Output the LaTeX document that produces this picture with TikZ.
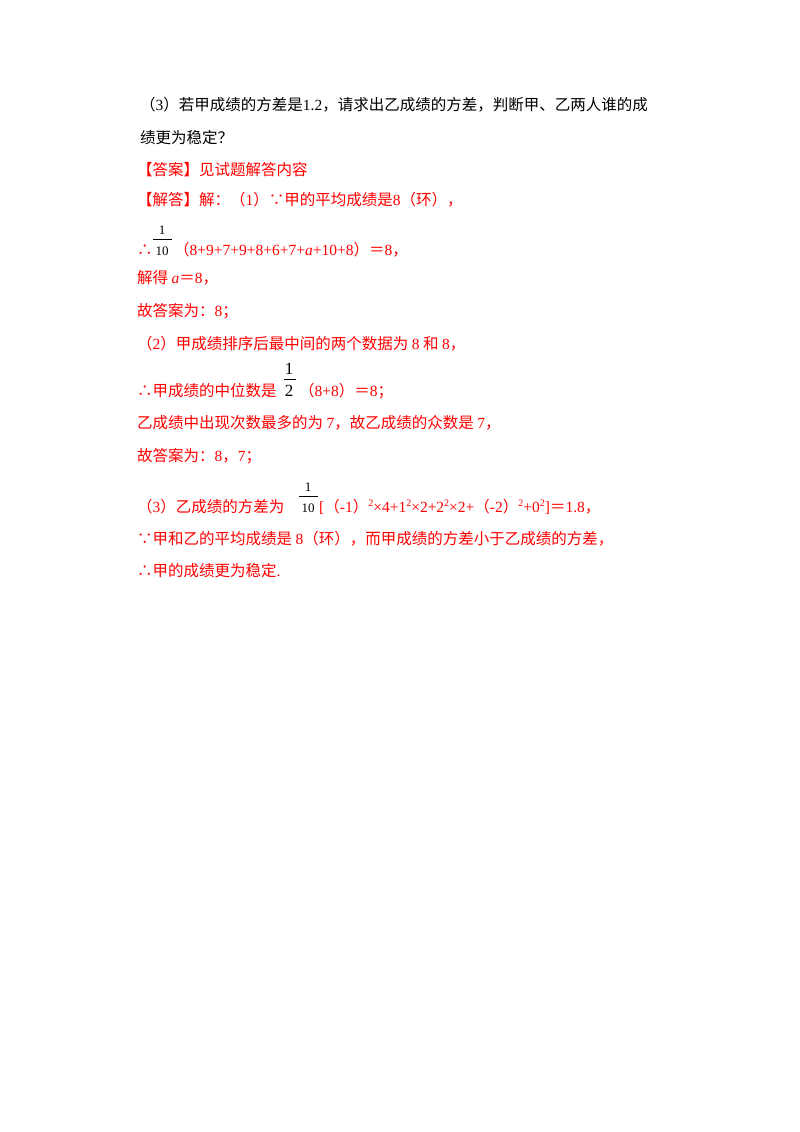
\documentclass[tikz,border=0pt]{standalone}
\usepackage{fontspec}
\setmainfont{Noto Sans CJK SC}
\newfontfamily\tm{Liberation Serif}
\definecolor{ans}{RGB}{255,0,0}
\newcommand{\sq}{\raisebox{6pt}{\tm\fontsize{10}{10}\selectfont 2}}
\begin{document}
\begin{tikzpicture}[x=1pt,y=-1pt,
  ln/.style={anchor=base west,inner sep=0pt,font=\fontsize{15.5}{16}\selectfont},
  rd/.style={ln,text=ans},
  fr/.style={anchor=base,inner sep=0pt,font=\tm\fontsize{13}{13}\selectfont},
  frb/.style={anchor=base,inner sep=0pt,font=\tm\fontsize{17}{17}\selectfont}]
\useasboundingbox (0,0) rectangle (800,1132);
\fill[white] (0,0) rectangle (800,1132);
\node[ln] (l1) at (140,110) {（{\tm 3}）若甲成绩的方差是{\tm 1.2}，请求出乙成绩的方差，判断甲、乙两人谁的成};
\node[ln] (l2) at (140,143) {绩更为稳定？};
\node[rd] (l3) at (137,175) {【答案】见试题解答内容};
\node[rd] (l4) at (137,205) {【解答】解：（{\tm 1}）∵甲的平均成绩是{\tm 8}（环），};
% line 5
\node[rd] (l5a) at (137,255) {∴};
\node[fr] (f1d) at (162,255) {10};
\node[fr] (f1n) at (162,234) {1};
\draw (153,239) -- (172,239);
\node[rd] (l5b) at (174,255) {（{\tm 8+9+7+9+8+6+7+\textit{a}+10+8}）＝{\tm 8}，};
\node[rd] (l6) at (137,283) {解得 {\tm\textit{a}}＝{\tm 8}，};
\node[rd] (l7) at (137,316) {故答案为：{\tm 8}；};
\node[rd] (l8) at (137,349) {（{\tm 2}）甲成绩排序后最中间的两个数据为 {\tm 8} 和 {\tm 8}，};
\node[rd] (l9a) at (137,396) {∴甲成绩的中位数是};
\node[frb] (f2d) at (289,396) {2};
\node[frb] (f2n) at (289,374) {1};
\draw (284,379) -- (296,379);
\node[rd] (l9b) at (299,396) {（{\tm 8+8}）＝{\tm 8}；};
\node[rd] (l10) at (137,428) {乙成绩中出现次数最多的为 {\tm 7}，故乙成绩的众数是 {\tm 7}，};
\node[rd] (l11) at (137,461) {故答案为：{\tm 8}，{\tm 7}；};
% line 12
\node[rd] (l12a) at (137,512) {（{\tm 3}）乙成绩的方差为};
\node[fr] (f3d) at (308,512) {10};
\node[fr] (f3n) at (308,491) {1};
\draw (299,496) -- (318,496);
\node[rd] (l12b) at (319,512) {{\tm [}（{\tm -1}）\sq{\tm ×4+1}\sq{\tm ×2+2}\sq{\tm ×2+}（{\tm -2}）\sq{\tm +0}\sq{\tm ]}＝{\tm 1.8}，};
\node[rd] (l13) at (137,544) {∵甲和乙的平均成绩是 {\tm 8}（环），而甲成绩的方差小于乙成绩的方差，};
\node[rd] (l14) at (137,576) {∴甲的成绩更为稳定{\tm .}};
\end{tikzpicture}
\end{document}
